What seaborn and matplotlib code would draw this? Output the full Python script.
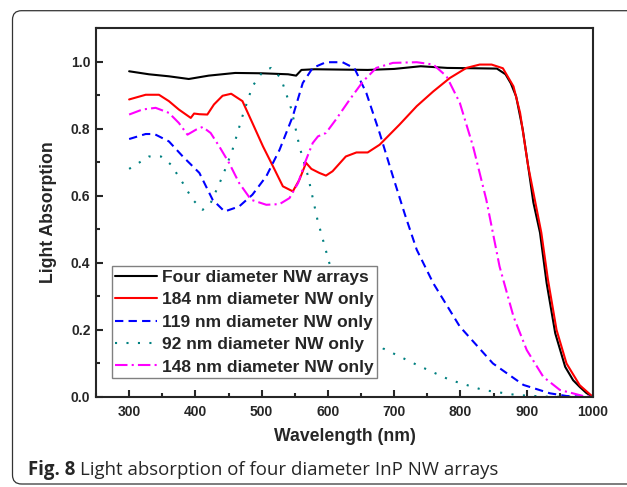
import numpy as np
import pandas as pd
import matplotlib
matplotlib.use("Agg")
import matplotlib.pyplot as plt
import seaborn as sns
from matplotlib.patches import FancyBboxPatch
from matplotlib.transforms import IdentityTransform
from matplotlib.ticker import MultipleLocator

# ---------------- data ----------------
labels = ["Four diameter NW arrays", "184 nm diameter NW only",
          "119 nm diameter NW only", "92 nm diameter NW only",
          "148 nm diameter NW only"]

wl_four = [300, 330, 360, 390, 420, 460, 500, 540, 552, 560, 580, 620, 660, 700,
           740, 780, 820, 855, 868, 876, 884, 894, 902, 910, 920, 930, 943, 958,
           970, 980, 990, 1000]
abs_four = [0.971, 0.962, 0.956, 0.948, 0.958, 0.966, 0.965, 0.962, 0.958, 0.975,
            0.977, 0.976, 0.975, 0.978, 0.986, 0.981, 0.980, 0.979, 0.962, 0.935,
            0.896, 0.797, 0.690, 0.580, 0.490, 0.340, 0.190, 0.090, 0.050, 0.030,
            0.012, 0.0]

wl_184 = [300, 325, 345, 360, 375, 393, 398, 406, 418, 428, 441, 454, 471, 486,
          502, 517, 532, 547, 557, 567, 575, 587, 597, 607, 627, 643, 660, 678,
          708, 734, 759, 784, 809, 829, 847, 864, 880, 890, 902, 913, 922, 932,
          945, 960, 980, 1000]
abs_184 = [0.887, 0.901, 0.901, 0.882, 0.857, 0.832, 0.845, 0.843, 0.842, 0.872,
           0.898, 0.904, 0.882, 0.817, 0.747, 0.688, 0.628, 0.613, 0.648, 0.698,
           0.680, 0.668, 0.660, 0.673, 0.717, 0.729, 0.729, 0.752, 0.812, 0.867,
           0.911, 0.951, 0.981, 0.991, 0.991, 0.980, 0.926, 0.847, 0.690, 0.580,
           0.490, 0.350, 0.200, 0.100, 0.035, 0.0]

wl_119 = [300, 325, 338, 360, 381, 406, 426, 444, 466, 486, 507, 527, 547, 562,
          577, 597, 622, 640, 658, 678, 698, 716, 734, 759, 799, 849, 895, 935,
          960, 1000]
abs_119 = [0.769, 0.784, 0.784, 0.762, 0.717, 0.668, 0.588, 0.553, 0.568, 0.603,
           0.658, 0.737, 0.837, 0.936, 0.981, 0.998, 0.998, 0.980, 0.906, 0.787,
           0.658, 0.545, 0.439, 0.339, 0.210, 0.100, 0.036, 0.011, 0.003, 0.0]

wl_92 = [300, 330, 348, 363, 381, 396, 411, 423, 441, 456, 471, 486, 502, 514,
         529, 545, 557, 570, 584, 602, 620, 640, 660, 683, 734, 784, 834, 884,
         930, 1000]
abs_92 = [0.680, 0.717, 0.717, 0.693, 0.638, 0.588, 0.558, 0.578, 0.658, 0.737,
          0.837, 0.926, 0.971, 0.981, 0.951, 0.857, 0.747, 0.658, 0.530, 0.400,
          0.310, 0.240, 0.190, 0.145, 0.096, 0.051, 0.021, 0.006, 0.001, 0.0]

wl_148 = [300, 320, 340, 360, 375, 388, 401, 411, 423, 436, 451, 466, 484, 507,
          527, 542, 555, 565, 577, 585, 597, 612, 633, 653, 673, 698, 734, 759,
          779, 799, 819, 839, 859, 880, 900, 925, 950, 985, 1000]
abs_148 = [0.842, 0.857, 0.862, 0.847, 0.817, 0.782, 0.797, 0.805, 0.787, 0.747,
           0.697, 0.638, 0.588, 0.573, 0.575, 0.593, 0.638, 0.697, 0.757, 0.777,
           0.787, 0.827, 0.887, 0.941, 0.981, 0.996, 0.998, 0.991, 0.956, 0.877,
           0.747, 0.588, 0.389, 0.240, 0.140, 0.060, 0.021, 0.003, 0.0]

x_ticks = [300, 400, 500, 600, 700, 800, 900, 1000]
y_ticks = [0.0, 0.2, 0.4, 0.6, 0.8, 1.0]

# ---------------- style ----------------
sns.set_style("ticks")
plt.rcParams["font.family"] = ["Liberation Sans", "DejaVu Sans"]

fig = plt.figure(figsize=(6.27, 4.87), dpi=100)
W, H = 627, 487
ax = fig.add_axes([96 / W, 1 - 397 / H, (593 - 96) / W, (397 - 28) / H])

series = [
    (labels[0], wl_four, abs_four, "#000000", "-"),
    (labels[1], wl_184, abs_184, "#ff0000", "-"),
    (labels[2], wl_119, abs_119, "#0000ff", (0, (4, 2.5))),
    (labels[3], wl_92, abs_92, "#008080", (0, (1, 4.5))),
    (labels[4], wl_148, abs_148, "#ff00ff", (0, (6, 2, 1, 2))),
]

for lab, wl, ab, col, ls in series:
    df = pd.DataFrame({"Wavelength": wl, "Absorption": ab})
    sns.lineplot(data=df, x="Wavelength", y="Absorption", ax=ax, color=col,
                 linestyle=ls, linewidth=1.5, label=lab, estimator=None)

ax.set_xlim(250, 1000)
ax.set_ylim(0, 1.1)
ax.set_xticks(x_ticks)
ax.set_yticks(y_ticks)
ax.set_yticklabels([f"{v:.1f}" for v in y_ticks])
ax.xaxis.set_minor_locator(MultipleLocator(50))
ax.yaxis.set_minor_locator(MultipleLocator(0.1))
ax.tick_params(which="major", direction="in", length=5, width=1.5,
               labelsize=10, top=False, right=False)
ax.tick_params(which="minor", direction="in", length=3, width=1.5,
               top=False, right=False)
ax.tick_params(axis="x", pad=6)
ax.tick_params(axis="y", pad=4)
for lbl in ax.get_xticklabels() + ax.get_yticklabels():
    lbl.set_fontweight("bold")
for sp in ax.spines.values():
    sp.set_linewidth(1.5)
    sp.set_visible(True)

ax.set_xlabel("Wavelength (nm)", fontsize=12.7, fontweight="bold", labelpad=6)
ax.set_ylabel("Light Absorption", fontsize=12.7, fontweight="bold", labelpad=10)

leg = ax.legend(loc="lower left", bbox_to_anchor=(0.0316, 0.0515),
                borderaxespad=0, prop={"weight": "bold", "size": 12.5},
                handlelength=2.4, handletextpad=0.3, labelspacing=0.42,
                borderpad=0.2, fancybox=False, framealpha=1, edgecolor="#808080")
leg.get_frame().set_linewidth(1.0)

# outer rounded frame
frame = FancyBboxPatch((12.5, 3.0), 640, 473.3,
                       boxstyle="round,pad=0,rounding_size=9",
                       transform=IdentityTransform(), facecolor="none",
                       edgecolor="#333333", linewidth=0.9)
fig.patches.append(frame)

# caption
t1 = fig.text(28 / W, 1 - 475 / H, "Fig. 8", fontfamily="Open Sans",
              fontweight="bold", fontsize=13.4, va="baseline", ha="left")
fig.canvas.draw()
bb = t1.get_window_extent()
fig.text((bb.x1 + 5) / W, 1 - 475 / H, "Light absorption of four diameter InP NW arrays",
         fontfamily="Open Sans", fontsize=13.4, va="baseline", ha="left")

fig.savefig("out.png", dpi=100)
